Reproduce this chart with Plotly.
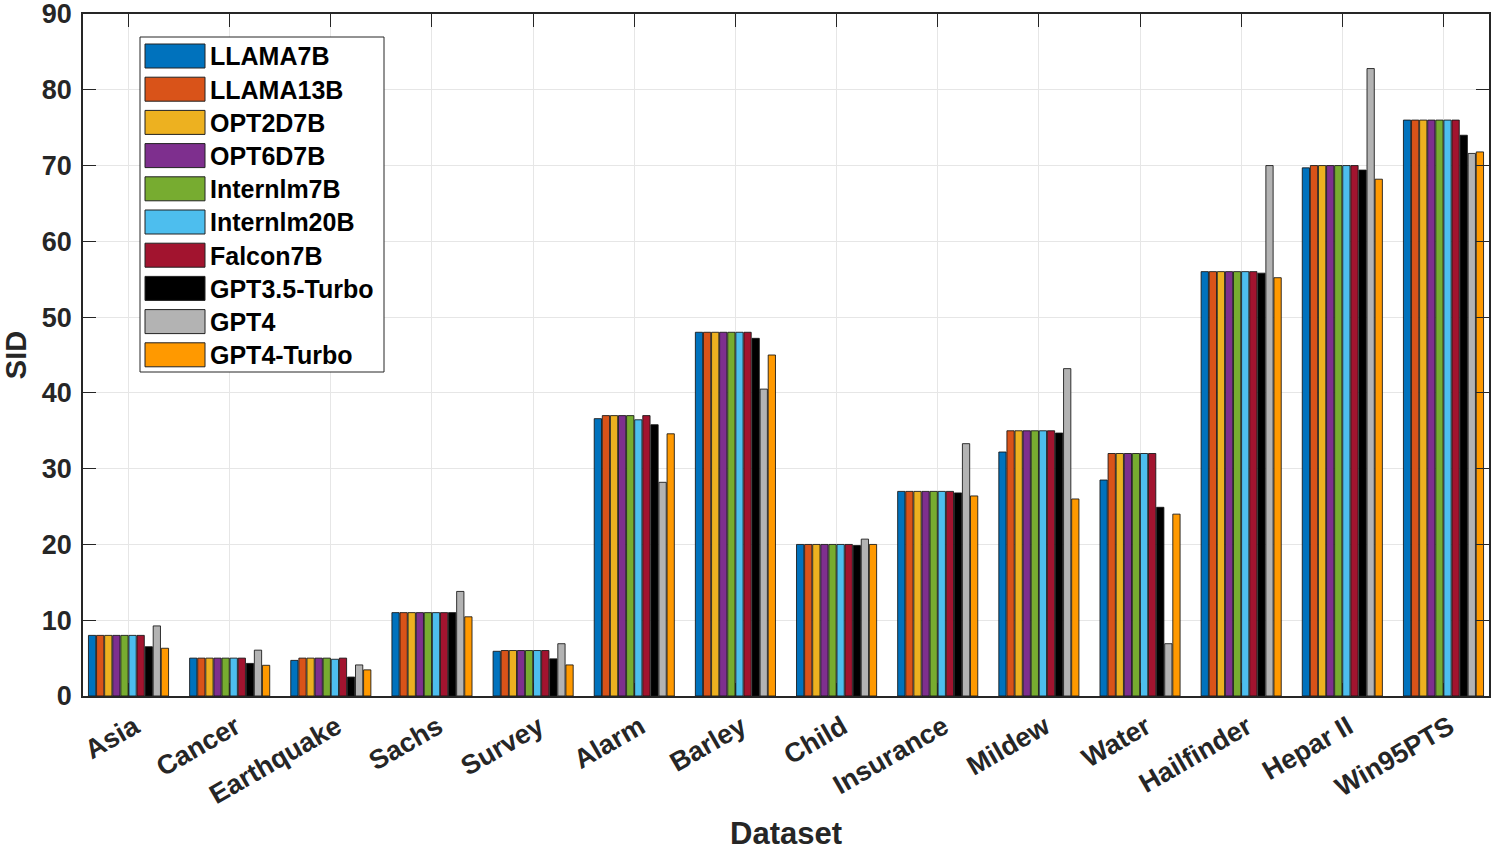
import plotly.graph_objects as go

datasets = ["Asia", "Cancer", "Earthquake", "Sachs", "Survey", "Alarm", "Barley",
            "Child", "Insurance", "Mildew", "Water", "Hailfinder", "Hepar II", "Win95PTS"]

models = ["LLAMA7B", "LLAMA13B", "OPT2D7B", "OPT6D7B", "Internlm7B", "Internlm20B",
          "Falcon7B", "GPT3.5-Turbo", "GPT4", "GPT4-Turbo"]

colors = ["#0072BD", "#D95319", "#EDB120", "#7E2F8E", "#77AC30", "#4DBEEE",
          "#A2142F", "#000000", "#B3B3B3", "#FF9900"]

llama7b     = [8, 5, 4.7, 11, 5.9, 36.6, 48, 20, 27, 32.2, 28.5, 56, 69.7, 76]
llama13b    = [8, 5, 5, 11, 6, 37, 48, 20, 27, 35, 32, 56, 70, 76]
opt2d7b     = [8, 5, 5, 11, 6, 37, 48, 20, 27, 35, 32, 56, 70, 76]
opt6d7b     = [8, 5, 5, 11, 6, 37, 48, 20, 27, 35, 32, 56, 70, 76]
internlm7b  = [8, 5, 5, 11, 6, 37, 48, 20, 27, 35, 32, 56, 70, 76]
internlm20b = [8, 5, 4.85, 11, 6, 36.45, 48, 20, 27, 35, 32, 56, 70, 76]
falcon7b    = [8, 5, 5, 11, 6, 37, 48, 20, 27, 35, 32, 56, 70, 76]
gpt35turbo  = [6.5, 4.3, 2.5, 11, 4.9, 35.8, 47.2, 19.85, 26.8, 34.7, 24.9, 55.8, 69.4, 74]
gpt4        = [9.25, 6.05, 4.1, 13.8, 6.9, 28.2, 40.5, 20.7, 33.3, 43.2, 6.9, 70, 82.8, 71.6]
gpt4turbo   = [6.3, 4.05, 3.45, 10.45, 4.1, 34.6, 45, 20, 26.4, 26, 24, 55.2, 68.2, 71.8]

series = [llama7b, llama13b, opt2d7b, opt6d7b, internlm7b, internlm20b,
          falcon7b, gpt35turbo, gpt4, gpt4turbo]

y_ticks = [0, 10, 20, 30, 40, 50, 60, 70, 80, 90]

W, H = 1495, 851
L, R, T, B = 83, 6, 14, 155
FONT = "Liberation Sans"
TXT = "#262626"

fig = go.Figure()
for name, vals, col in zip(models, series, colors):
    fig.add_trace(go.Bar(
        x=datasets, y=vals, name=name,
        marker=dict(color=col, line=dict(color="rgba(20,20,20,0.85)", width=1)),
        showlegend=False,
    ))

# Manual MATLAB-style legend (paper coordinates)
pw, ph = W - L - R, H - T - B
def px(x):
    return (x - L) / pw
def py(y):
    return (H - B - y) / ph

shapes = [dict(type="rect", xref="paper", yref="paper",
               x0=px(140), x1=px(384), y0=py(372), y1=py(37),
               line=dict(color="#262626", width=1), fillcolor="white", layer="above")]
annotations = []
pitch = 33.2
for i, (name, col) in enumerate(zip(models, colors)):
    y0 = 44 + i * pitch
    shapes.append(dict(type="rect", xref="paper", yref="paper",
                       x0=px(145), x1=px(205), y0=py(y0 + 24), y1=py(y0),
                       line=dict(color="#222222", width=1), fillcolor=col, layer="above"))
    annotations.append(dict(xref="paper", yref="paper", x=px(208), y=py(y0 + 12.5),
                            text=name, showarrow=False, xanchor="left", yanchor="middle",
                            font=dict(family=FONT, size=25, color="black", weight="bold")))

fig.update_layout(
    width=W, height=H,
    margin=dict(l=L, r=R, t=T, b=B, autoexpand=False),
    paper_bgcolor="white", plot_bgcolor="white",
    barmode="group", bargap=0.2, bargroupgap=0.1,
    font=dict(family=FONT, size=24, color=TXT),
    shapes=shapes, annotations=annotations,
)
fig.update_xaxes(
    range=[-0.45, 13.45], tickangle=-30, automargin=False,
    tickfont=dict(family=FONT, size=27, color=TXT, weight="bold"),
    ticklabelshift=6, ticklabelstandoff=3,
    showline=True, linecolor=TXT, linewidth=1.5, mirror="ticks",
    ticks="inside", ticklen=13, tickcolor=TXT,
    showgrid=True, gridcolor="#e6e6e6", gridwidth=1,
    title=dict(text="<b>Dataset</b>", font=dict(family=FONT, size=31, color=TXT), standoff=30),
)
fig.update_yaxes(
    range=[0, 90], tickmode="array", tickvals=y_ticks, automargin=False,
    ticklabeloverflow="allow",
    tickfont=dict(family=FONT, size=27, color=TXT, weight="bold"),
    showline=True, linecolor=TXT, linewidth=1.5, mirror="ticks",
    ticks="inside", ticklen=13, tickcolor=TXT, ticklabelstandoff=4,
    showgrid=True, gridcolor="#e6e6e6", gridwidth=1, zeroline=False,
    title=dict(text="<b>SID</b>", font=dict(family=FONT, size=29, color=TXT), standoff=8),
)

fig.write_html("out.html", config={"displayModeBar": False},
               post_script="document.body.style.margin='0';")
